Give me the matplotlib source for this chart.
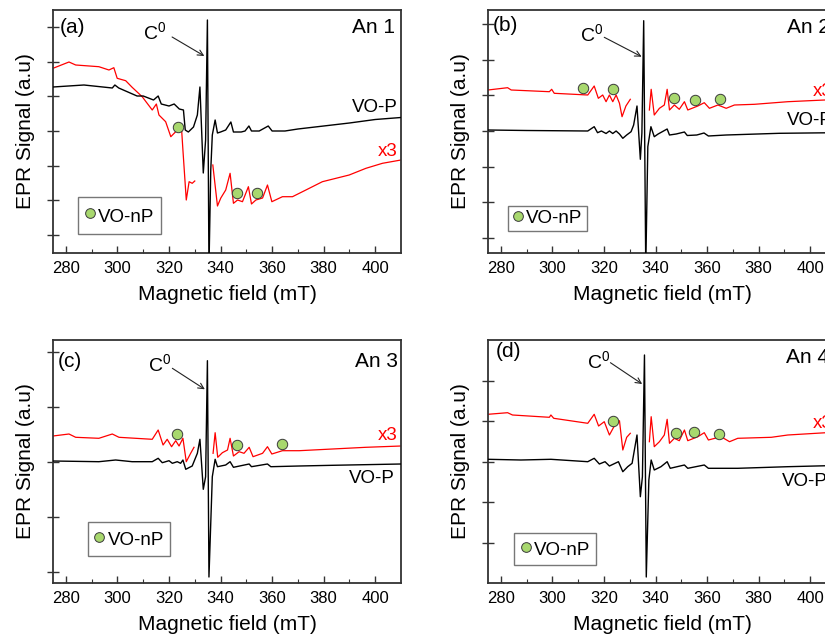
import numpy as np
import matplotlib
matplotlib.use("Agg")
import matplotlib.pyplot as plt
from matplotlib.lines import Line2D

plt.rcParams['font.family'] = ['Liberation Sans', 'DejaVu Sans']
plt.rcParams['mathtext.fontset'] = 'custom'
plt.rcParams['mathtext.rm'] = 'Liberation Sans'

NAN = np.nan

# ---------------- data (field in mT, signal in a.u.) ----------------
a_black = [(275,166),(287,168),(298,165),(299,168),(300.5,165),(307.6,157),(310,157),(314,153),
           (315.8,157),(317,149),(320,147),(322,149),(324,144),(325.6,143),(326.3,123),(327.5,121),
           (329.5,126),(331.0,138),(332.0,166),(333.3,80),(334.2,113),(334.9,233),(335.5,-15),
           (336.2,83),(336.8,118),(337.9,133),(338.8,120),(340,121),(342,123),(344,131),(345,121),
           (348,121),(349.5,122),(351,127),(352,122),(355,122),(358.5,127),(360,122),(365,122),
           (370,124),(380,127),(390,130),(400,133.5),(410,135.5)]
a_red = [(275,184.7),(281.2,191),(283.8,188),(292.8,186.3),(296.7,183),(298.6,185.3),(299.9,174.7),
         (303.2,172.3),(305.7,165.7),(309.6,156.3),(313.5,143),(315.1,149),(316.1,138),(318.7,131.3),
         (320.7,116.3),(322.6,121.3),(324.9,123),(325.4,103),(326.7,53),(327.8,71.3),(329.0,69.7),
         (330,72),(NAN,NAN),(337.0,88),(338.8,47),(340.1,55),(342.0,63),(343.7,79.7),(345.0,49.7),
         (346.6,53),(348.5,51.3),(350.8,66.3),(352.0,49),(353.7,53),(356.3,55),(358.2,68),(359.9,51.3),
         (364.0,56.3),(367.9,56.3),(373.1,63),(379.5,71.3),(389.9,78),(396.4,84.7),(402.8,89.7),(410,93)]
a_dots = [(323.6,125.7),(346.4,59.7),(354.3,60.3)]

b_black = [(275,123),(290,122.5),(300,122.3),(313.7,122),(316.2,126.3),(317.5,120.3),(319,122),
           (320.8,119.5),(322.1,122),(323.4,119.5),(324.7,122),(326,119),(327.3,114.7),(328.8,118),
           (330.5,121.3),(331.5,128),(332.8,147),(334.1,93.7),(334.7,120),(335.4,232.3),(336.2,-15),
           (337.0,106.3),(338.2,126.3),(339.5,116.3),(341,119),(344.5,124),(345.4,118),(348,119),
           (351.2,121),(352.3,117.5),(356,118),(358.8,120),(360.5,117),(367.4,118),(388,119.7),(410,120.3)]
b_red = [(275,163),(282.6,165.3),(284,163),(298.8,161.3),(299.7,163.7),(300.7,159.7),(313.7,158),
         (316.2,167),(317.8,154.7),(319.5,158),(320.8,151.3),(322.1,158),(323.4,151.3),(324.7,158),
         (326.0,149.7),(327.0,136.3),(328.5,147),(330.2,153.7),(NAN,NAN),(337.6,143),(338.3,163.7),
         (339.5,138),(341.5,144.7),(343.4,148),(344.5,163.7),(345.4,143),(347.3,148),(349.2,143.7),
         (351.2,151.3),(352.5,143),(356.4,147),(358.9,150.3),(360.9,144.7),(364.2,148),(367.4,144.7),
         (370.6,148),(378.4,148.7),(391.3,151.3),(405.6,153),(410,153.5)]
b_dots = [(311.8,165.3),(323.5,163.7),(347.3,155.3),(355.3,153),(365.0,153.7)]

c_black = [(275,122),(292.8,121.3),(299.3,123),(305.7,121.3),(313.5,121.3),(315.8,124.7),(317.4,120.3),
           (320,122.3),(321.3,119.7),(323.2,121.3),(324.5,119.7),(325.4,123),(326.5,113.7),(329.0,117),
           (331.0,129.7),(332.0,143.7),(333.3,93.7),(334.2,106.3),(334.9,222.3),(335.5,6),(336.8,106.3),
           (337.9,123.7),(338.8,116.3),(342.0,118),(343.7,121.3),(345.0,115.7),(351.1,119),(352,116.3),
           (358.2,119),(359.5,116.3),(370.5,117),(383.4,117.7),(410,119)]
c_red = [(275,147),(281.2,149),(283.8,145.7),(292.8,144.7),(298,149),(300.6,145.7),(313.5,143.7),
         (315.8,153),(317.7,138),(319.3,143.7),(321.0,136.3),(322.6,142.3),(323.9,137),(325.4,144.7),
         (326.7,121.3),(328.4,129.7),(329.7,135.7),(NAN,NAN),(337.1,129.7),(337.9,150.3),(338.9,125.7),
         (340.7,130.3),(342.7,133),(343.7,144.7),(345.0,127),(347.2,131.3),(349.1,129.7),(351.1,135.7),
         (352.6,126.3),(356.3,129.7),(358.2,136.3),(359.9,129),(364.0,132.3),(370.5,132.3),(383.4,134),
         (396.4,135.7),(410,137)]
c_dots = [(323.2,148.7),(346.5,138),(364.0,139)]

d_black = [(275,123.7),(287.8,123),(299.4,123.7),(313.7,121.3),(316.2,124.7),(318.2,119),(320.4,121.3),
           (322.1,117),(324.3,119.7),(325.6,121.3),(327.3,111.3),(329.2,116.3),(330.9,119.7),(332.8,148),
           (334.1,86.3),(334.9,106.3),(335.7,228),(336.4,6),(337.4,103),(338.3,123),(339.5,113),
           (342.1,116.3),(344.5,121.3),(345.7,114.7),(351.2,118),(352.5,114.7),(358.9,118),(360.5,114.7),
           (371.9,114.7),(391.3,116.3),(410,117.5)]
d_red = [(275,168.7),(282.6,170.3),(284.5,168),(298.8,165.7),(299.4,168),(300.5,164.7),(313.7,159.7),
         (316.2,168.7),(317.9,157),(320.1,161.3),(322.1,148),(324.0,157),(326.0,162.3),(327.3,133),
         (328.8,145.7),(330.2,149.7),(NAN,NAN),(337.6,141.3),(338.3,166.3),(339.5,136.3),(341.5,141.3),
         (343.4,148),(344.5,163.7),(345.4,139.7),(347.3,144.7),(349.2,142.3),(351.2,153),(352.5,142.3),
         (356.4,146.3),(358.9,150.3),(360.5,143),(365.4,146.3),(368.7,141.3),(371.9,144.7),(384.9,145.7),
         (391.3,148),(406.2,150.3),(410,150.5)]
d_dots = [(323.4,162.3),(347.8,149.7),(355.1,150.7),(364.8,149)]

xticks = [280, 300, 320, 340, 360, 380, 400]
panel_letters = ['(a)', '(b)', '(c)', '(d)']
sample_names = ['An 1', 'An 2', 'An 3', 'An 4']

# ---------------- layout / style ----------------
W, H = 825, 642
fig = plt.figure(figsize=(W/100, H/100), dpi=100)

panels = [
    dict(black=a_black, red=a_red, dots=a_dots, box=(53, 10, 348, 243),
         yt=[18, 52.7, 87.4, 122.1, 156.8, 191.5, 226.2],
         c0=((333.7, 197), (321.2, 216), (314.5, 220)),
         letter=(0.02, 0.93), name=(0.983, 0.93), vop=(0.991, 0.60), x3=(0.991, 0.416),
         leg=(0.071, 0.077), legpad=0.35, legh=1.6),
    dict(black=b_black, red=b_red, dots=b_dots, box=(488, 10, 348, 243),
         yt=[15, 50.7, 86.4, 122.1, 157.8, 193.5, 229.2],
         c0=((334.6, 196.3), (320.1, 215.7), (315.2, 218)),
         letter=(0.015, 0.938), name=(0.983, 0.93), vop=(0.991, 0.547), x3=(0.991, 0.663),
         leg=(0.058, 0.09), legpad=0.22, legh=0.7),
    dict(black=c_black, red=c_red, dots=c_dots, box=(53, 340, 348, 243),
         yt=[10.7, 65.9, 121.1, 176.3, 231.5],
         c0=((333.9, 193.7), (321.3, 214.7), (316.4, 218)),
         letter=(0.015, 0.911), name=(0.992, 0.911), vop=(0.981, 0.432), x3=(0.991, 0.605),
         leg=(0.101, 0.112), legpad=0.3, legh=1.45),
    dict(black=d_black, red=d_red, dots=d_dots, box=(488, 340, 348, 243),
         yt=[40.5, 81, 121.5, 162, 202.5],
         c0=((334.8, 199), (322.5, 220.3), (317.9, 221.3)),
         letter=(0.023, 0.952), name=(0.979, 0.926), vop=(0.976, 0.417), x3=(0.991, 0.657),
         leg=(0.076, 0.074), legpad=0.3, legh=1.3),
]

spine_col = '#333333'
dot_face = '#a8d86e'

for i, p in enumerate(panels):
    x0, y0, w, h = p['box']
    ax = fig.add_axes([x0/W, 1 - (y0 + h)/H, w/W, h/H])
    bx, by = zip(*p['black'])
    rx, ry = zip(*p['red'])
    ax.plot(bx, by, color='black', lw=1.0, zorder=3)
    ax.plot(rx, ry, color='red', lw=0.9, zorder=2)
    dx, dy = zip(*p['dots'])
    ax.plot(dx, dy, 'o', ms=7.5, mfc=dot_face, mec='#3a3a3a', mew=0.7, zorder=4, ls='none')

    ax.set_xlim(275, 410)
    ax.set_ylim(0, 243)
    ax.set_xticks(xticks)
    ax.set_xticks([290, 310, 330, 350, 370, 390], minor=True)
    ax.set_yticks(p['yt'])
    ax.set_yticklabels([])
    ax.tick_params(axis='x', which='major', direction='in', length=5, width=1.0,
                   labelsize=12, pad=6, color=spine_col)
    ax.tick_params(axis='x', which='minor', direction='in', length=3, width=0.8, color=spine_col)
    ax.tick_params(axis='y', which='major', direction='inout', length=9, width=1.0, color=spine_col)
    for s in ax.spines.values():
        s.set_color(spine_col)
        s.set_linewidth(1.3)

    ax.set_xlabel('Magnetic field (mT)', fontsize=15, labelpad=6)
    ax.set_ylabel('EPR Signal (a.u)', fontsize=15, labelpad=5)

    head, tail, ctext = p['c0']
    ax.annotate('', xy=head, xytext=tail,
                arrowprops=dict(arrowstyle='->', color='#222222', lw=0.8, shrinkA=0, shrinkB=0))
    ax.text(ctext[0], ctext[1], r'C$^{\mathregular{0}}$', fontsize=14, ha='center', va='center')

    ax.text(p['letter'][0], p['letter'][1], panel_letters[i], transform=ax.transAxes,
            fontsize=15, ha='left', va='center')
    ax.text(p['name'][0], p['name'][1], sample_names[i], transform=ax.transAxes,
            fontsize=15, ha='right', va='center')
    ax.text(p['vop'][0], p['vop'][1], 'VO-P', transform=ax.transAxes,
            fontsize=13.5, ha='right', va='center', color='black')
    ax.text(p['x3'][0], p['x3'][1], 'x3', transform=ax.transAxes,
            fontsize=13.5, ha='right', va='center', color='red')

    handle = Line2D([], [], ls='none', marker='o', ms=7, mfc=dot_face, mec='#3a3a3a', mew=0.7)
    leg = ax.legend([handle], ['VO-nP'], loc='lower left', bbox_to_anchor=p['leg'],
                    fontsize=13.5, frameon=True, fancybox=False, handlelength=0.6,
                    handleheight=p['legh'], handletextpad=0.15, borderpad=p['legpad'],
                    borderaxespad=0)
    leg.get_frame().set_edgecolor('#555555')
    leg.get_frame().set_linewidth(1.0)

fig.savefig('out.png', dpi=100)
